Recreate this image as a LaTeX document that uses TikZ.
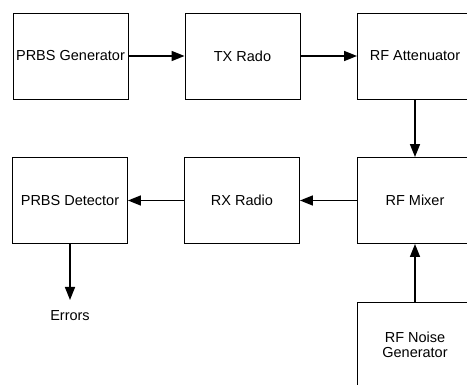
\documentclass[tikz,border=0pt]{standalone}
\usepackage{fontspec}
\setmainfont{Liberation Sans}
\usetikzlibrary{arrows.meta}
\begin{document}
\begin{tikzpicture}[x=1pt,y=-1pt,
  block/.style={draw=black, line width=0.9pt, minimum width=115pt, minimum height=86pt,
    inner sep=0pt, align=center, font=\fontsize{14.5}{16}\selectfont},
  flow/.style={draw=black, line width=1.5pt, -{Triangle[length=13pt,width=10pt]}},
  lbl/.style={font=\fontsize{14.5}{16}\selectfont}]
  \useasboundingbox[fill=white] (0,0) rectangle (467,385);
  % top row
  \node[block] (gen)  at (70.5,56)  {PRBS Generator};
  \node[block] (tx)   at (242.5,56) {TX Rado};
  \node[block] (att)  at (415,56)   {RF Attenuator};
  % bottom row
  \node[block] (det)  at (70,200.5)  {PRBS Detector};
  \node[block] (rx)   at (242,200.5) {RX Radio};
  \node[block] (mix)  at (415,200.5) {RF Mixer};
  \node[block] (noise) at (415,345)  {RF Noise\\[-1pt]Generator};
  % output
  \coordinate (errend) at (70,300);
  \node[lbl] (err) at (70,316) {Errors};
  % signal flow
  \draw[flow] (gen) -- (tx);
  \draw[flow] (tx) -- (att);
  \draw[flow] (att) -- (mix);
  \draw[flow] (mix) -- (rx);
  \draw[flow] (rx) -- (det);
  \draw[flow] (noise) -- (mix);
  \draw[flow] (det) -- (errend);
\end{tikzpicture}
\end{document}
